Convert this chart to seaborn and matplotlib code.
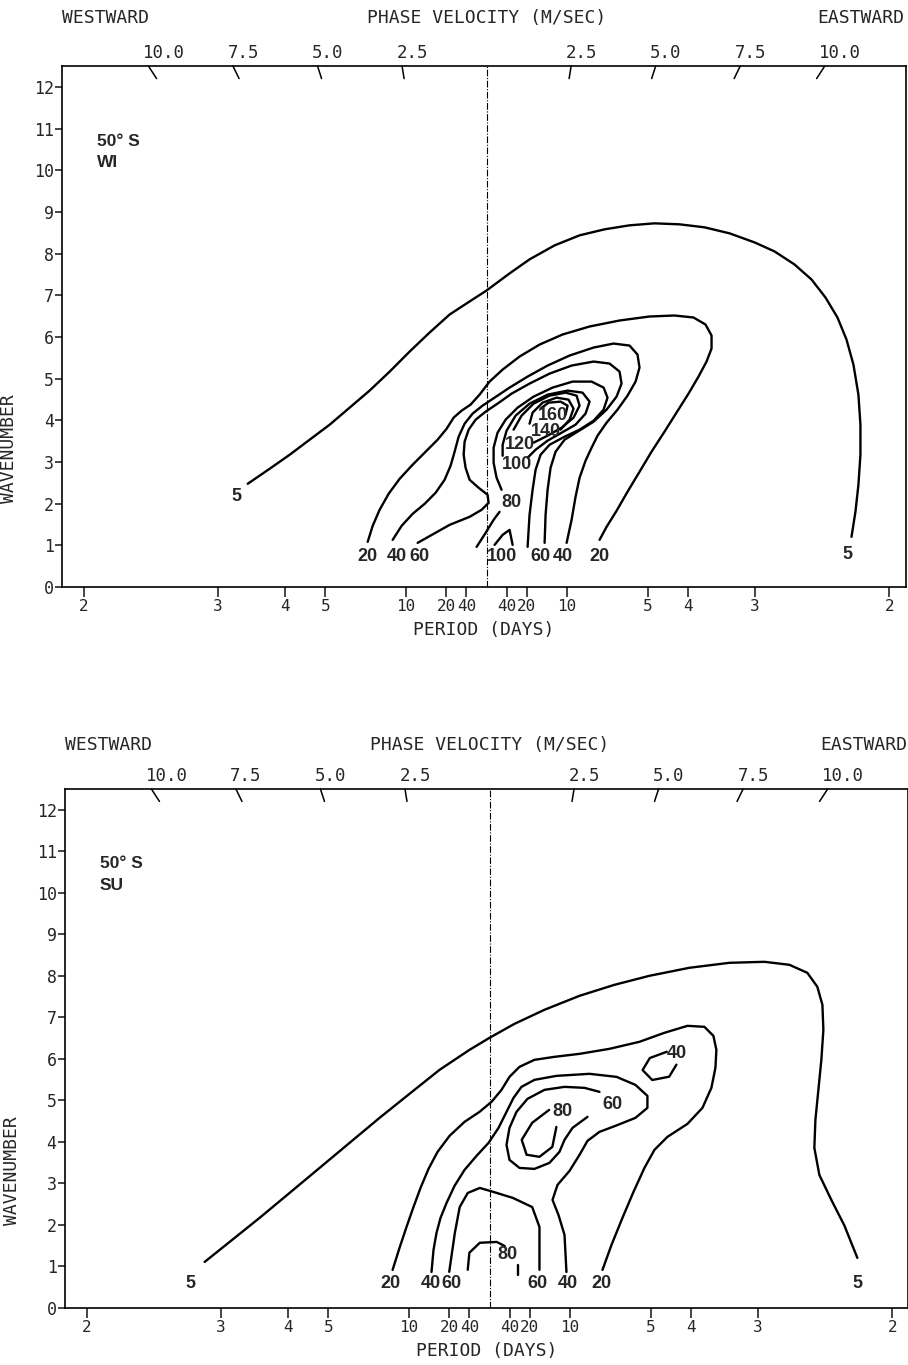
import numpy as np
import matplotlib
matplotlib.use('Agg')
import matplotlib.pyplot as plt
import seaborn as sns

# ---- axis values ----
periods = [2, 3, 4, 5, 10, 20, 40]          # period ticks (days), both directions
speeds = [2.5, 5.0, 7.5, 10.0]              # phase velocity ticks (m/s)
wavenumbers = list(range(13))

# ---- winter (WI) contours: frequency (cycles/day, <0 westward) and wavenumber ----
w5_f = [-0.2965, -0.2692, -0.2444, -0.2196, -0.1948, -0.1700, -0.1452, -0.1203, -0.0955, -0.0707, -0.0459, -0.0211, 0.0,
        0.0285, 0.0533, 0.0844, 0.1154, 0.1464, 0.1774, 0.2084, 0.2395, 0.2705, 0.3015, 0.3325, 0.3573, 0.3821,
        0.4032, 0.4206, 0.4355, 0.4467, 0.4553, 0.4615, 0.4640, 0.4640, 0.4615, 0.4578, 0.4529]
w5_k = [2.476, 2.837, 3.173, 3.534, 3.894, 4.303, 4.712, 5.168, 5.649, 6.106, 6.538, 6.851, 7.115,
        7.524, 7.861, 8.197, 8.438, 8.582, 8.678, 8.726, 8.702, 8.630, 8.486, 8.269, 8.053, 7.740,
        7.380, 6.947, 6.466, 5.938, 5.337, 4.615, 3.894, 3.173, 2.452, 1.803, 1.202]
w20_f = [-0.1476, -0.1414, -0.1328, -0.1216, -0.1079, -0.0918, -0.0757, -0.0608, -0.0496, -0.0409, -0.0310, -0.0199,
         -0.0087, 0.0037, 0.0199, 0.0409, 0.0658, 0.0943, 0.1278, 0.1650, 0.2022, 0.2333, 0.2568, 0.2717, 0.2792,
         0.2792, 0.2730, 0.2630, 0.2506, 0.2357, 0.2208, 0.2047, 0.1898, 0.1749, 0.1613, 0.1489, 0.1402]
w20_k = [1.082, 1.466, 1.851, 2.236, 2.596, 2.933, 3.245, 3.534, 3.798, 4.063, 4.231, 4.375,
         4.615, 4.928, 5.216, 5.529, 5.817, 6.058, 6.250, 6.394, 6.490, 6.514, 6.466, 6.298, 6.034,
         5.721, 5.409, 5.048, 4.639, 4.183, 3.726, 3.245, 2.764, 2.284, 1.827, 1.442, 1.130]
w40_f = [-0.1166, -0.1055, -0.0918, -0.0769, -0.0633, -0.0521, -0.0447, -0.0397, -0.0347, -0.0273, -0.0174, -0.0050,
         0.0099, 0.0285, 0.0509, 0.0757, 0.1030, 0.1328, 0.1576, 0.1774, 0.1873, 0.1898, 0.1849, 0.1749, 0.1625,
         0.1489, 0.1377, 0.1303, 0.1228, 0.1154, 0.1104, 0.1055, 0.0993]
w40_k = [1.130, 1.466, 1.755, 1.995, 2.260, 2.572, 2.909, 3.245, 3.606, 3.918, 4.159, 4.351,
         4.543, 4.784, 5.048, 5.313, 5.553, 5.745, 5.841, 5.793, 5.577, 5.264, 4.928, 4.591, 4.255,
         3.942, 3.630, 3.341, 3.029, 2.620, 2.163, 1.611, 1.058]
w60_f = [-0.0856, -0.0459, -0.0211, -0.0062, 0.0025, 0.0012, -0.0099, -0.0211, -0.0261, -0.0285, -0.0273, -0.0223,
         -0.0136, -0.0012, 0.0136, 0.0310, 0.0533, 0.0782, 0.1055, 0.1328, 0.1526, 0.1650, 0.1675, 0.1613, 0.1489,
         0.1328, 0.1129, 0.0968, 0.0856, 0.0794, 0.0757, 0.0732, 0.0720]
w60_k = [1.058, 1.490, 1.683, 1.851, 2.019, 2.212, 2.380, 2.572, 2.861, 3.173, 3.486, 3.774,
         4.014, 4.207, 4.399, 4.639, 4.880, 5.120, 5.313, 5.409, 5.361, 5.168, 4.880, 4.567, 4.255,
         3.966, 3.726, 3.534, 3.245, 2.861, 2.332, 1.731, 1.058]
w80a_f = [-0.0124, -0.0012, 0.0087, 0.0161]
w80a_k = [0.962, 1.298, 1.611, 1.803]
w80b_f = [0.0186, 0.0124, 0.0087, 0.0087, 0.0136, 0.0236, 0.0385, 0.0583, 0.0819, 0.1067, 0.1303, 0.1452,
          0.1501, 0.1452, 0.1328, 0.1154, 0.0968, 0.0782, 0.0670, 0.0608, 0.0571, 0.0533, 0.0509]
w80b_k = [2.332, 2.620, 2.981, 3.341, 3.702, 4.014, 4.303, 4.567, 4.784, 4.928, 4.928, 4.784,
          4.543, 4.255, 3.990, 3.774, 3.606, 3.413, 3.173, 2.812, 2.332, 1.731, 0.962]
w100_f = [0.0509, 0.0608, 0.0757, 0.0931, 0.1104, 0.1228, 0.1278, 0.1191, 0.1005, 0.0757, 0.0533, 0.0360,
          0.0248, 0.0199, 0.0199]
w100_k = [3.101, 3.293, 3.510, 3.702, 3.894, 4.159, 4.447, 4.663, 4.712, 4.615, 4.399, 4.111,
          3.750, 3.413, 3.149]
w100s_f = [0.0099, 0.0199, 0.0285, 0.0323]
w100s_k = [1.01, 1.25, 1.37, 1.01]
w120_f = [0.0583, 0.0757, 0.0931, 0.1079, 0.1154, 0.1117, 0.0980, 0.0782, 0.0583, 0.0434, 0.0335]
w120_k = [3.462, 3.630, 3.822, 4.063, 4.351, 4.591, 4.663, 4.591, 4.399, 4.111, 3.774]
w140_f = [0.0918, 0.1030, 0.1079, 0.1017, 0.0868, 0.0695, 0.0571, 0.0533]
w140_k = [3.774, 4.014, 4.279, 4.495, 4.543, 4.423, 4.183, 3.918]
w160_f = [0.0980, 0.1005, 0.0918, 0.0769, 0.0670]
w160_k = [4.135, 4.351, 4.447, 4.423, 4.279]

w_lab_txt = ['5', '20', '40', '60', '100', '60', '40', '20', '5', '80', '100', '120', '140', '160']
w_lab_f = [-0.311, -0.148, -0.112, -0.083, 0.019, 0.067, 0.094, 0.140, 0.448, 0.031, 0.038, 0.041, 0.074, 0.082]
w_lab_k = [2.16, 0.72, 0.72, 0.72, 0.72, 0.72, 0.72, 0.72, 0.77, 2.02, 2.93, 3.41, 3.73, 4.11]

# ---- summer (SU) contours ----
s5_f = [-0.3536, -0.3226, -0.2854, -0.2481, -0.2109, -0.1737, -0.1365, -0.0993, -0.0620, -0.0248, 0.0,
        0.0310, 0.0682, 0.1117, 0.1551, 0.1985, 0.2481, 0.2978, 0.3412, 0.3722, 0.3945, 0.4069, 0.4132,
        0.4144, 0.4119, 0.4082, 0.4045, 0.4032, 0.4094, 0.4243, 0.4404, 0.4566]
s5_k = [1.108, 1.590, 2.169, 2.771, 3.373, 3.976, 4.578, 5.157, 5.735, 6.217, 6.506,
        6.843, 7.181, 7.518, 7.783, 8.000, 8.193, 8.313, 8.337, 8.265, 8.072, 7.735, 7.301,
        6.699, 5.976, 5.253, 4.530, 3.855, 3.205, 2.602, 1.988, 1.205]
s20_f = [-0.1203, -0.1117, -0.1030, -0.0943, -0.0856, -0.0757, -0.0645, -0.0496, -0.0310, -0.0124, 0.0025,
         0.0149, 0.0248, 0.0372, 0.0558, 0.0806, 0.1117, 0.1489, 0.1861, 0.2171, 0.2457, 0.2667, 0.2779,
         0.2816, 0.2804, 0.2754, 0.2643, 0.2457, 0.2208, 0.2047, 0.1923, 0.1787, 0.1650, 0.1514, 0.1402]
s20_k = [0.916, 1.446, 1.952, 2.434, 2.892, 3.349, 3.759, 4.145, 4.482, 4.723, 4.964,
         5.253, 5.566, 5.807, 5.976, 6.048, 6.120, 6.241, 6.410, 6.627, 6.795, 6.771, 6.554,
         6.217, 5.783, 5.301, 4.819, 4.434, 4.120, 3.807, 3.373, 2.795, 2.169, 1.518, 0.916]
s40_f = [-0.0720, -0.0695, -0.0658, -0.0608, -0.0533, -0.0434, -0.0310, -0.0161, -0.0012, 0.0112, 0.0211,
         0.0298, 0.0397, 0.0558, 0.0831, 0.1241, 0.1576, 0.1811, 0.1960, 0.1960, 0.1811, 0.1563, 0.1365,
         0.1216, 0.1117, 0.0993, 0.0844, 0.0782, 0.0856, 0.0931, 0.0955]
s40_k = [0.867, 1.398, 1.807, 2.169, 2.530, 2.940, 3.325, 3.663, 3.976, 4.337, 4.723,
         5.060, 5.325, 5.494, 5.590, 5.639, 5.566, 5.373, 5.108, 4.819, 4.578, 4.386, 4.241,
         4.024, 3.687, 3.301, 2.964, 2.602, 2.241, 1.759, 0.867]
s40s_f = [0.220, 0.199, 0.190, 0.202, 0.223, 0.232]
s40s_k = [6.17, 6.02, 5.73, 5.49, 5.57, 5.86]
s60_f = [0.1365, 0.1179, 0.0931, 0.0682, 0.0471, 0.0335, 0.0248, 0.0211, 0.0248, 0.0372, 0.0558, 0.0744,
         0.0868, 0.0931, 0.1030, 0.1216]
s60_k = [5.205, 5.301, 5.325, 5.253, 5.036, 4.723, 4.337, 3.928, 3.566, 3.373, 3.349, 3.494,
         3.759, 4.048, 4.337, 4.602]
s60b_f = [-0.050, -0.043, -0.037, -0.027, -0.012, 0.004, 0.029, 0.053, 0.062, 0.062]
s60b_k = [0.87, 1.81, 2.43, 2.77, 2.89, 2.80, 2.65, 2.43, 1.95, 0.92]
s80_f = [0.083, 0.078, 0.062, 0.046, 0.040, 0.053, 0.074]
s80_k = [4.36, 3.88, 3.64, 3.69, 4.05, 4.46, 4.77]
s80b_f = [-0.027, -0.025, -0.012, 0.009, 0.019]
s80b_k = [0.92, 1.33, 1.57, 1.59, 1.49]
s80t_f = [0.035, 0.035]
s80t_k = [1.04, 0.80]

s_lab_txt = ['5', '20', '40', '60', '80', '60', '40', '20', '5', '80', '60', '40']
s_lab_f = [-0.371, -0.123, -0.073, -0.047, 0.022, 0.060, 0.097, 0.139, 0.457, 0.091, 0.153, 0.233]
s_lab_k = [0.60, 0.60, 0.60, 0.60, 1.28, 0.60, 0.60, 0.60, 0.60, 4.72, 4.89, 6.14]

sns.set_style('ticks')
plt.rcParams['font.family'] = ['DejaVu Sans Mono']
plt.rcParams['axes.linewidth'] = 1.2

LAB_FONT = ['Liberation Sans Narrow', 'Liberation Sans', 'DejaVu Sans']

LAT = 50.0
EARTH_R = 6.371e6


def speed_to_freq(c, k):
    # frequency (cycles/day) of a wave with phase speed c (m/s) and zonal wavenumber k at LAT
    return c * k * 86400.0 / (2 * np.pi * EARTH_R * np.cos(np.radians(LAT)))


def draw_panel(ax, lines, lab_txt, lab_f, lab_k, season, head_y):
    for f, k in lines:
        sns.lineplot(x=f, y=k, sort=False, estimator=None, color='black',
                     linewidth=1.7, ax=ax)
    for t, f, k in zip(lab_txt, lab_f, lab_k):
        ax.text(f, k, t, ha='center', va='center', fontsize=13, fontweight='bold',
                family=LAB_FONT)

    ax.axvline(0, color='black', lw=0.8, ls=(0, (6, 1.5, 1, 1.5)))

    ax.set_xlim(-0.527, 0.520)
    ax.set_ylim(0, 12.5)
    xt = [-1.0 / p for p in periods] + [1.0 / p for p in periods]
    ax.set_xticks(xt)
    ax.set_xticklabels([str(p) for p in periods] * 2)
    ax.set_yticks(wavenumbers)
    ax.tick_params(axis='x', direction='out', length=7, width=1.2, labelsize=11.5, pad=2)
    ax.tick_params(axis='y', direction='out', length=5, width=1.2, labelsize=12, pad=1)
    for s in ax.spines.values():
        s.set_visible(True)
        s.set_color('black')

    ax.set_xlabel('PERIOD (DAYS)', fontsize=13, labelpad=5)
    ax.set_ylabel('WAVENUMBER', fontsize=13)
    ax.yaxis.set_label_coords(-0.052, 0.265)

    # slanted phase velocity ticks along lines of constant phase speed
    top = ax.get_ylim()[1]
    for c in speeds:
        for sign in (-1, 1):
            kk = np.array([top, top - 0.3])
            ax.plot(sign * speed_to_freq(c, kk), kk, color='black', lw=1.1, clip_on=False)
            ax.annotate(f'{c:.1f}', xy=(sign * speed_to_freq(c, top), top),
                        xytext=(-4, 3), textcoords='offset points',
                        ha='left', va='bottom', fontsize=12.5)

    ax.text(0.0, head_y, 'WESTWARD', transform=ax.transAxes, ha='left', va='center', fontsize=13)
    ax.text(0.0, head_y, 'PHASE VELOCITY (M/SEC)', transform=ax.get_xaxis_transform(),
            ha='center', va='center', fontsize=13)
    ax.text(0.999, head_y, 'EASTWARD', transform=ax.transAxes, ha='right', va='center', fontsize=13)

    ax.text(0.041, 0.856, '50° S', transform=ax.transAxes, fontsize=12.5, fontweight='bold',
            va='center', family=LAB_FONT)
    ax.text(0.041, 0.814, season, transform=ax.transAxes, fontsize=12.5, fontweight='bold',
            va='center', family=LAB_FONT)


fig = plt.figure(figsize=(9.08, 13.65), dpi=100)
ax1 = fig.add_axes([0.0683, 0.570, 0.929, 0.3816])
ax2 = fig.add_axes([0.0715, 0.0418, 0.929, 0.3802])

wi_lines = [(w5_f, w5_k), (w20_f, w20_k), (w40_f, w40_k), (w60_f, w60_k),
            (w80a_f, w80a_k), (w80b_f, w80b_k), (w100_f, w100_k), (w100s_f, w100s_k),
            (w120_f, w120_k), (w140_f, w140_k), (w160_f, w160_k)]
su_lines = [(s5_f, s5_k), (s20_f, s20_k), (s40_f, s40_k), (s40s_f, s40s_k),
            (s60_f, s60_k), (s60b_f, s60b_k), (s80_f, s80_k), (s80b_f, s80b_k),
            (s80t_f, s80t_k)]

draw_panel(ax1, wi_lines, w_lab_txt, w_lab_f, w_lab_k, 'WI', 1.092)
draw_panel(ax2, su_lines, s_lab_txt, s_lab_f, s_lab_k, 'SU', 1.085)

fig.savefig('out.png', dpi=100)
